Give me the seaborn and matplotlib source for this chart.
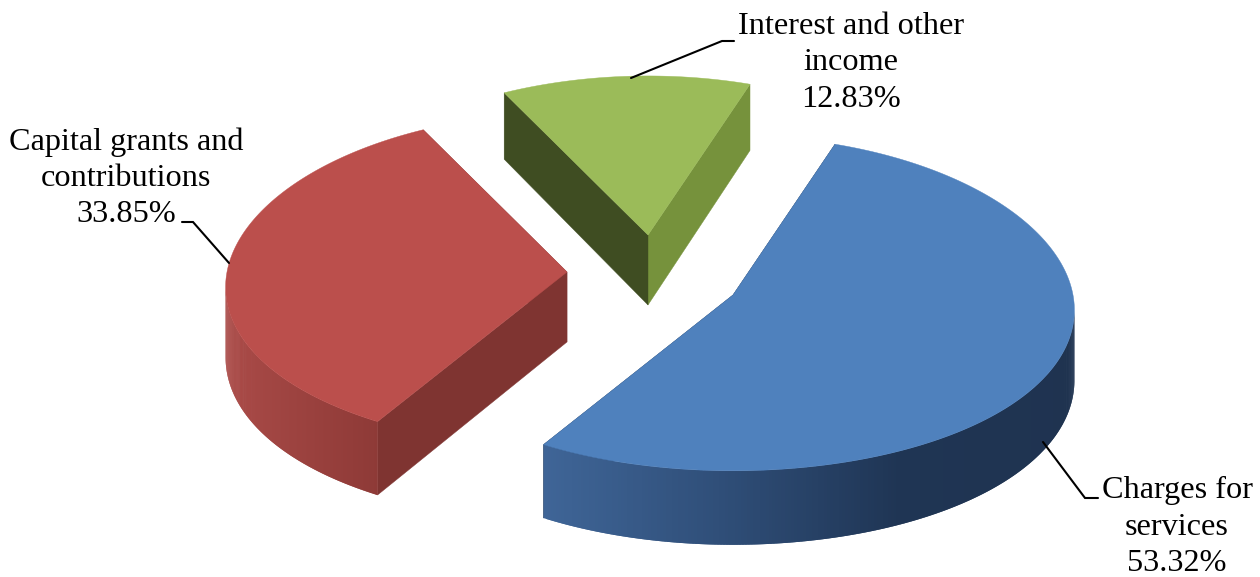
import numpy as np
import matplotlib
matplotlib.use("Agg")
import matplotlib.pyplot as plt
import seaborn as sns

# Revenue shares, in percent, in clockwise order from the start angle
categories = ["Charges for\nservices", "Capital grants and\ncontributions", "Interest and other\nincome"]
shares = [53.32, 33.85, 12.83]
top_colors = ["#4f81bd", "#bb4f4c", "#9bbb59"]
rim_ramps = [["#3f6597", "#2f4e78", "#1f3554", "#1f3350"],
             ["#ab4b48", "#a04542", "#973f3c", "#8e3a37"],
             ["#76923c", "#76923c", "#76923c", "#76923c"]]
# Side faces: first is the cut at the slice's start, second at its end
cut_colors = [["#1f3350", "#1f3350"], ["#7f3431", "#7f3431"], ["#3f4d22", "#76923c"]]

# Pixel-space view of the tilted disc
apexes = [(733, 295), (567, 272), (648, 235)]
START_ANGLE = 71.0
SEMI_X, SEMI_Y = 340.0, 167.0
PERSPECTIVE_X = 0.09
PERSPECTIVE_Y = 0.05
THICKNESS = 70.0

sns.set_theme(style="white")
plt.rcParams["font.family"] = ["Liberation Serif", "DejaVu Serif"]

fig, ax = plt.subplots(figsize=(12.6, 5.77), dpi=100)
ax.set_position([0, 0, 1, 1])
ax.set_xlim(0, 1260)
ax.set_ylim(577, 0)
ax.axis("off")


def rim_point(apex, t):
    """Project disc angle t (radians) onto the page, nearer parts drawn larger."""
    scale_x = 1.0 / (1.0 + PERSPECTIVE_X * np.sin(t))
    scale_y = 1.0 / (1.0 + PERSPECTIVE_Y * np.sin(t))
    return apex[0] + SEMI_X * np.cos(t) * scale_x, apex[1] - SEMI_Y * np.sin(t) * scale_y


def depth(t):
    return THICKNESS + 4.0 * (-np.sin(t))


boundaries = START_ANGLE - np.cumsum([0.0] + shares) * 3.6
for i, share in enumerate(shares):
    apex = apexes[i]
    t0, t1 = np.radians(boundaries[i]), np.radians(boundaries[i + 1])
    ts = np.linspace(t0, t1, 400)
    xs, ys = rim_point(apex, ts)

    # Straight cut faces, back to front
    cuts = sorted([(t0, cut_colors[i][0]), (t1, cut_colors[i][1])], key=lambda c: rim_point(apex, c[0])[1])
    for t, colour in cuts:
        x, y = rim_point(apex, t)
        d = depth(t)
        ax.fill([apex[0], x, x, apex[0]], [apex[1], y, y + d, apex[1] + THICKNESS],
                color=colour, lw=0.3, zorder=i * 10 + 1)

    # Curved rim: overlapping vertical strips, from silhouette to silhouette of the disc
    front = np.sin(ts) <= -PERSPECTIVE_X
    ramp = sns.blend_palette(rim_ramps[i], n_colors=256)
    if front.any():
        xf, yf, tf = xs[front], ys[front], ts[front]
        order = np.argsort(xf)
        xf, yf, tf = xf[order], yf[order], tf[order]
        span = (xf - xf.min()) / max(xf.max() - xf.min(), 1.0)
        for k in range(len(xf) - 1):
            j = min(k + 2, len(xf) - 1)
            colour = ramp[int(span[k] * 255)]
            ax.fill([xf[k], xf[j], xf[j], xf[k]],
                    [yf[k], yf[j], yf[j] + depth(tf[j]), yf[k] + depth(tf[k])],
                    color=colour, lw=0, zorder=i * 10 + 2)

    # Flat top of the slice
    ax.fill(np.r_[apex[0], xs], np.r_[apex[1], ys], color=top_colors[i], lw=0.3, zorder=i * 10 + 3)

# Leader lines from the labels to the slices
leaders = [([1043, 1085, 1098], [442, 498, 498]),
           ([229, 193, 182], [263, 222, 222]),
           ([631, 722, 734], [78, 41, 41])]
for lx, ly in leaders:
    ax.plot(lx, ly, color="black", lw=1.5, zorder=50, solid_joinstyle="miter")

# Category labels with their percentages
label_centres = [(1177, 527), (126, 178), (851, 63)]
for name, share, (cx, cy) in zip(categories, shares, label_centres):
    ax.text(cx, cy, f"{name}\n{share:.2f}%", ha="center", va="center", fontsize=23.2,
            color="black", linespacing=1.32, zorder=60)

fig.savefig("out.png", dpi=100, facecolor="white")
